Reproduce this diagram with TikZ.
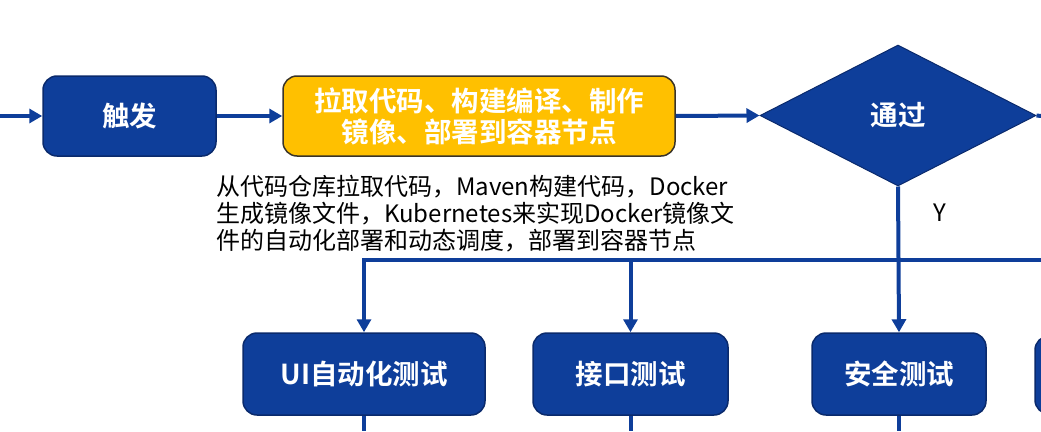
\documentclass[tikz,border=0pt]{standalone}
\usepackage{fontspec}
\setmainfont{Noto Sans CJK SC}[BoldFont={Noto Sans CJK SC Bold}]
\usetikzlibrary{arrows.meta}
\usetikzlibrary{shapes.geometric}
\definecolor{flowblue}{RGB}{14,62,154}
\definecolor{flowedge}{RGB}{10,42,108}
\definecolor{flowyellow}{RGB}{255,192,0}
\definecolor{yellowedge}{RGB}{58,52,40}

\begin{document}
\begin{tikzpicture}[x=1pt,y=-1pt,
    flow/.style={draw=flowblue,line width=4pt,-{Triangle[length=13pt,width=14pt]}},
    bus/.style={draw=flowblue,line width=4pt},
    bluebox/.style={draw=flowedge,line width=1.5pt,fill=flowblue,text=white,rounded corners=14pt,inner sep=0,font=\bfseries\fontsize{27.5}{31}\selectfont},
    yellowbox/.style={draw=yellowedge,line width=1.5pt,fill=flowyellow,text=white,rounded corners=14pt,inner sep=0,align=center,font=\bfseries\fontsize{27.5}{31}\selectfont},
    decision/.style={diamond,draw=flowedge,line width=1pt,fill=flowblue,text=white,inner sep=0,font=\bfseries\fontsize{27.5}{31}\selectfont}]
        \useasboundingbox (0,0) rectangle (1041,431);
        \clip (0,0) rectangle (1041,431);
        % Top row
        \coordinate (In) at (0,116);
        \node [bluebox,minimum width=173pt,minimum height=80pt] (Trigger) at (129.5,116) {触发};
        \node [yellowbox,minimum width=392pt,minimum height=80pt] (Build) at (479,116) {拉取代码、构建编译、制作\\镜像、部署到容器节点};
        \node [decision,minimum width=276pt,minimum height=141pt] (Pass) at (898,115.5) {通过};
        \coordinate (Out) at (1041,116);
        % Note under the build step
        \node [anchor=west,inner sep=0,align=left,font=\fontsize{24}{27}\selectfont] (Note) at (216,214) {从代码仓库拉取代码，Maven构建代码，Docker\\生成镜像文件，Kubernetes来实现Docker镜像文\\件的自动化部署和动态调度，部署到容器节点};
        % Test row
        \node [bluebox,minimum width=242pt,minimum height=82pt] (UiTest) at (364,374) {UI自动化测试};
        \node [bluebox,minimum width=195pt,minimum height=82pt] (ApiTest) at (630.5,374) {接口测试};
        \node [bluebox,minimum width=174pt,minimum height=82pt] (SafeTest) at (899,374) {安全测试};
        \node [bluebox,minimum width=174pt,minimum height=78pt] (NextTest) at (1122,375) {};
        % Connectors
        \draw [flow] (In) -- (Trigger.west);
        \draw [flow] (Trigger.east) -- (Build.west);
        \draw [flow] (Build.east) -- (Pass.west);
        \draw [bus] (Pass.east) -- (Out);
        \draw [flow] (Pass.south) -- (SafeTest.north) node[pos=0.18,right=30pt,text=black,font=\fontsize{24}{24}\selectfont] (Yes) {Y};
        \coordinate (BusEnd) at (1041,260);
        \draw [flow] (BusEnd) -| (UiTest.north);
        \draw [flow] (ApiTest.north |- BusEnd) -- (ApiTest.north);
        % Lines leaving the tests
        \coordinate (Bottom) at (0,431);
        \draw [bus] (UiTest.south) -- (UiTest.south |- Bottom);
        \draw [bus] (ApiTest.south) -- (ApiTest.south |- Bottom);
        \draw [bus] (SafeTest.south) -- (SafeTest.south |- Bottom);
    \end{tikzpicture}
\end{document}
